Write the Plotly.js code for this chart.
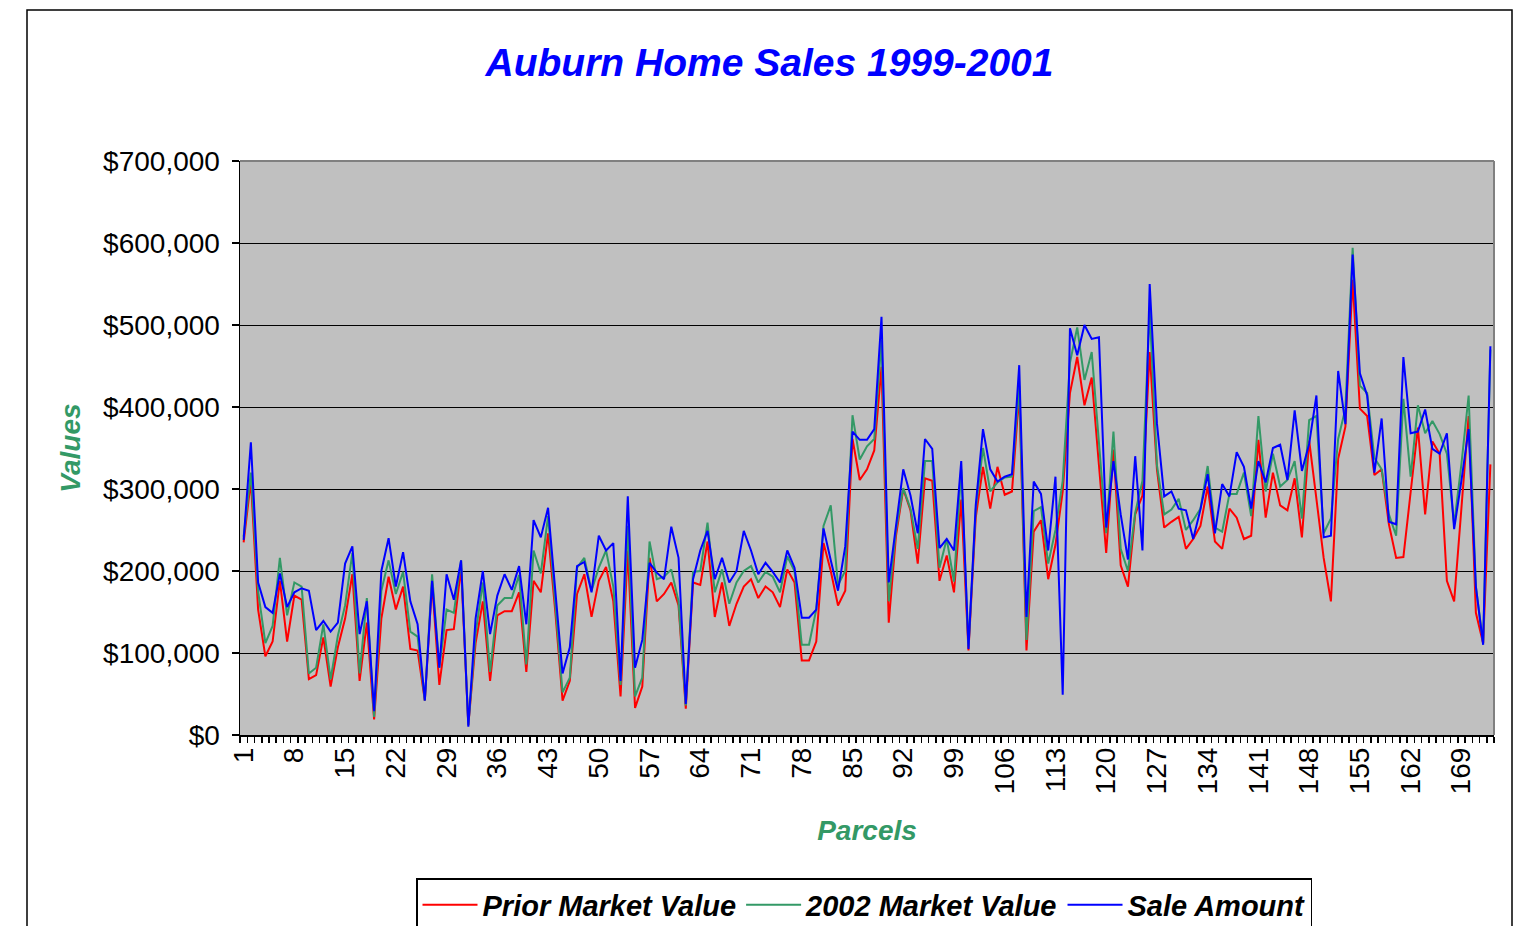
<!DOCTYPE html>
<html>
<head>
<meta charset="utf-8">
<script src="https://cdn.plot.ly/plotly-3.0.1.min.js"></script>
<style>html,body{margin:0;padding:0;background:#fff;overflow:hidden;}#chart{width:1522px;height:926px;}</style>
</head>
<body>
<div id="chart"></div>
<script>
// Parcel numbers (categories)
const parcels = Array.from({length: 173}, (_, i) => i + 1);
const xTickLabels = [1, 8, 15, 22, 29, 36, 43, 50, 57, 64, 71, 78, 85, 92, 99, 106, 113, 120, 127, 134, 141, 148, 155, 162, 169];
const yTickValues = [0, 100000, 200000, 300000, 400000, 500000, 600000, 700000];
const yTickLabels = ['$0', '$100,000', '$200,000', '$300,000', '$400,000', '$500,000', '$600,000', '$700,000'];

// Values in thousands of dollars
const priorMarketValue = [
 235,310,153,96,114,188,114,170,165,68,73,119,59,107,142,196,66,137,19,142,
 193,153,181,105,103,42,185,61,128,129,204,12,112,163,66,146,151,151,174,77,
 188,174,246,150,42,66,172,196,144,188,205,163,47,225,33,59,216,163,172,186,
 158,32,186,183,236,144,186,133,160,181,190,167,181,174,156,202,186,91,91,114,
 234,200,158,176,361,311,324,347,449,137,243,300,274,209,313,310,188,219,174,287,
 103,265,327,276,327,293,297,417,103,248,262,190,232,297,417,461,402,436,329,222,
 348,207,181,269,292,467,324,253,260,266,227,239,255,303,236,227,276,265,239,243,
 360,265,320,280,274,313,241,359,288,216,163,337,376,555,398,389,317,324,257,216,
 217,300,375,269,358,343,188,163,280,389,149,112,330
];
const marketValue2002 = [
 242,320,175,112,133,216,146,186,181,75,82,135,68,121,158,222,75,167,22,176,
 213,172,199,126,120,42,196,82,153,149,213,12,123,186,77,158,167,167,195,86,
 225,197,267,160,52,70,204,216,176,204,225,181,61,255,47,70,236,190,193,202,
 163,36,199,200,259,174,202,160,186,200,206,186,199,193,174,218,200,110,110,153,
 255,280,183,200,390,336,352,361,482,163,250,301,276,227,334,334,204,239,187,324,
 107,275,350,297,308,314,315,426,116,273,278,209,250,310,454,497,433,467,357,246,
 370,227,200,271,310,518,329,269,275,288,250,262,276,328,253,248,294,294,320,267,
 389,297,343,303,311,334,264,384,389,246,264,361,398,594,426,417,338,324,269,243,
 410,315,402,368,383,367,343,257,330,414,181,112,470
];
const saleAmount = [
 238,357,186,156,149,197,156,174,179,176,128,139,126,137,209,230,123,163,29,200,
 240,181,223,163,135,42,188,82,196,165,213,10,142,200,123,170,196,177,206,135,
 262,241,277,175,75,107,206,211,174,243,225,234,66,291,82,116,210,198,190,254,
 216,38,190,225,249,190,216,186,200,249,225,196,210,199,186,225,204,143,143,153,
 252,213,176,230,370,360,360,373,510,186,255,324,292,246,361,349,228,239,225,334,
 105,280,373,324,309,315,318,451,144,309,294,225,315,49,496,463,500,483,485,253,
 334,269,214,340,225,550,380,291,297,276,274,239,275,318,246,306,291,345,327,276,
 334,308,350,354,311,396,322,355,414,241,243,444,379,586,441,414,320,386,260,257,
 461,368,370,397,349,343,368,251,310,373,181,110,474
];

const toDollars = arr => arr.map(v => v * 1000);
const FONT = 'Liberation Sans, Arial, Helvetica, sans-serif';

const traces = [
  {name: 'Prior Market Value', x: parcels, y: toDollars(priorMarketValue), type: 'scatter', mode: 'lines',
   line: {color: '#FF0000', width: 2}},
  {name: '2002 Market Value', x: parcels, y: toDollars(marketValue2002), type: 'scatter', mode: 'lines',
   line: {color: '#339966', width: 2}},
  {name: 'Sale Amount', x: parcels, y: toDollars(saleAmount), type: 'scatter', mode: 'lines',
   line: {color: '#0000FF', width: 2}}
];

const layout = {
  width: 1522, height: 926,
  paper_bgcolor: '#FFFFFF', plot_bgcolor: '#C0C0C0',
  margin: {l: 240, r: 28, t: 161, b: 191, pad: 0, autoexpand: false},
  font: {family: FONT, color: '#000000'},
  showlegend: true,
  title: {
    text: 'Auburn Home Sales 1999-2001',
    font: {family: FONT, size: 39, color: '#0000FF', weight: 'bold', style: 'italic'},
    xref: 'container', x: 0.5056, xanchor: 'center',
    yref: 'container', y: 1 - 62 / 926, yanchor: 'middle'
  },
  xaxis: {
    range: [0.5, 173.5], autorange: false,
    tickmode: 'array', tickvals: xTickLabels, ticktext: xTickLabels.map(String),
    tickangle: -90, ticks: '', showgrid: false, zeroline: false,
    showline: true, linecolor: '#000000', linewidth: 1.5,
    tickfont: {family: FONT, size: 28, color: '#000000'},
    minor: {tick0: 0.5, dtick: 1, ticks: 'outside', ticklen: 6, tickcolor: '#000000', tickwidth: 1.5, showgrid: false},
    title: {text: 'Parcels', font: {family: FONT, size: 28, color: '#339966', weight: 'bold', style: 'italic'}, standoff: 27},
    automargin: false
  },
  yaxis: {
    range: [0, 700000], autorange: false,
    tickmode: 'array', tickvals: yTickValues, ticktext: yTickLabels,
    ticks: 'outside', ticklen: 7, tickcolor: '#000000', tickwidth: 1.5,
    showgrid: true, gridcolor: '#000000', gridwidth: 1,
    showline: true, linecolor: '#000000', linewidth: 1.5, zeroline: false,
    tickfont: {family: FONT, size: 28, color: '#000000'},
    ticklabelstandoff: 6,
    title: {text: 'Values', font: {family: FONT, size: 28, color: '#339966', weight: 'bold', style: 'italic'}, standoff: 14},
    automargin: false
  },
  legend: {
    orientation: 'h',
    x: (416 - 240) / 1254, xanchor: 'left',
    y: -(878 - 735) / 574, yanchor: 'top',
    bgcolor: '#FFFFFF', bordercolor: '#000000', borderwidth: 1.5,
    font: {family: FONT, size: 29, color: '#000000', weight: 'bold', style: 'italic'},
    itemwidth: 55,
    traceorder: 'normal'
  },
  shapes: [
    {type: 'rect', xref: 'paper', yref: 'paper',
     x0: (27 - 240) / 1254, x1: (1512 - 240) / 1254, y0: -(940 - 735) / 574, y1: (735 - 10) / 574,
     line: {color: '#000000', width: 1.5}, fillcolor: 'rgba(0,0,0,0)', layer: 'below'},
    {type: 'line', xref: 'paper', yref: 'paper', x0: 0, x1: 1, y0: 1, y1: 1,
     line: {color: '#808080', width: 2}, layer: 'above'},
    {type: 'line', xref: 'paper', yref: 'paper', x0: 1, x1: 1, y0: 0, y1: 1,
     line: {color: '#808080', width: 2}, layer: 'above'}
  ]
};

Plotly.newPlot('chart', traces, layout, {displayModeBar: false, staticPlot: true});
</script>
</body>
</html>
